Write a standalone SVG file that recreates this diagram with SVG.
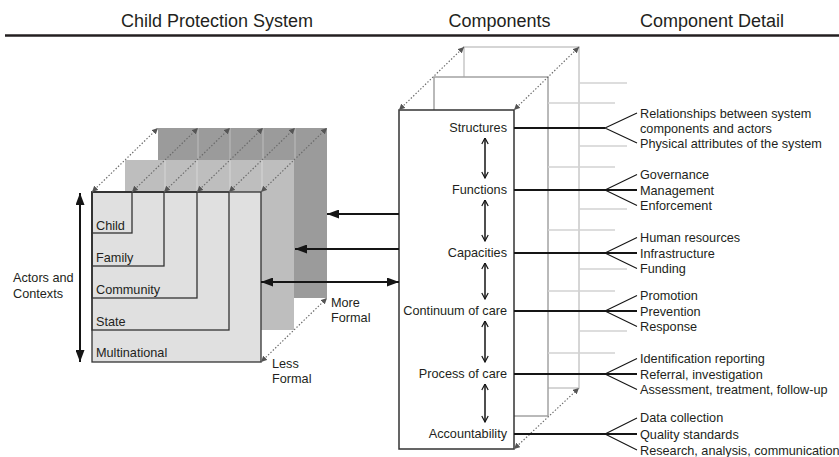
<svg xmlns="http://www.w3.org/2000/svg" width="839" height="457" viewBox="0 0 839 457">
<style>
  text { font-family: "Liberation Sans", Arial, Helvetica, sans-serif; fill: #231f20; }
  .h { font-size: 18px; text-anchor: middle; }
  .t { font-size: 12.7px; }
  .r { text-anchor: end; }
  .dot { stroke: #6a6a6a; stroke-width: 1.2; stroke-dasharray: 1.4 1.9; fill: none; marker-start: url(#ga); marker-end: url(#ga); }
  .thick { stroke: #151515; stroke-width: 2; fill: none; }
  .arr1 { stroke: #151515; stroke-width: 2; fill: none; marker-end: url(#ba); }
  .arr2 { stroke: #151515; stroke-width: 2; fill: none; marker-start: url(#ba); marker-end: url(#ba); }
  .varr { stroke: #151515; stroke-width: 1.5; fill: none; marker-start: url(#va); marker-end: url(#va); }
  .fan { stroke: #151515; stroke-width: 1.1; fill: none; }
  .stub { stroke: #d2d2d2; stroke-width: 1.5; }
  .nest { fill: none; stroke: #333; stroke-width: 1.3; }
</style>
<defs>
  <marker id="ga" viewBox="0 0 6 6" refX="6" refY="3" markerWidth="6" markerHeight="6" markerUnits="userSpaceOnUse" orient="auto-start-reverse">
    <path d="M0,0 L6,3 L0,6 z" fill="#555"/>
  </marker>
  <marker id="ba" viewBox="0 0 12 9" refX="12" refY="4.5" markerWidth="12" markerHeight="9" markerUnits="userSpaceOnUse" orient="auto-start-reverse">
    <path d="M0,0 L12,4.5 L0,9 z" fill="#151515"/>
  </marker>
  <marker id="va" viewBox="0 0 8 8" refX="7.5" refY="4" markerWidth="8" markerHeight="8" markerUnits="userSpaceOnUse" orient="auto-start-reverse">
    <path d="M1.5,0.8 L7.5,4 L1.5,7.2" fill="none" stroke="#151515" stroke-width="1.2"/>
  </marker>
</defs>

<g id="header">
  <text class="h" x="217" y="27">Child Protection System</text>
  <text class="h" x="499.5" y="27">Components</text>
  <text class="h" x="712" y="27">Component Detail</text>
  <line x1="5" y1="35.5" x2="839" y2="35.5" stroke="#231f20" stroke-width="2.5"/>
</g>

<g id="system-stack">
  <g id="panel-more-formal">
    <rect x="158" y="128" width="169" height="170" fill="#9b9b9b"/>
    <path d="M198,128 V160 M230,128 V160 M263,128 V160 M295,128 V160" stroke="#bdbdbd" stroke-width="1"/>
  </g>
  <g id="panel-middle">
    <rect x="125" y="160" width="169" height="170" fill="#bebebe"/>
    <path d="M165,160 V192 M197,160 V192 M230,160 V192 M262,160 V192" stroke="#d6d6d6" stroke-width="1"/>
  </g>
  <g id="panel-less-formal">
    <rect x="92" y="192" width="169" height="170" fill="#e0e0e0" stroke="#333" stroke-width="1.3"/>
    <rect class="nest" x="92" y="192" width="137" height="138"/>
    <rect class="nest" x="92" y="192" width="105" height="106"/>
    <rect class="nest" x="92" y="192" width="72" height="74"/>
    <rect class="nest" x="92" y="192" width="40" height="41"/>
    <text class="t" x="96" y="230">Child</text>
    <text class="t" x="96" y="262">Family</text>
    <text class="t" x="96" y="294">Community</text>
    <text class="t" x="96" y="326">State</text>
    <text class="t" x="96" y="357">Multinational</text>
  </g>
  <g id="stack-depth-lines">
    <line class="dot" x1="92" y1="192" x2="158" y2="128"/>
    <line class="dot" x1="132" y1="192" x2="198" y2="128"/>
    <line class="dot" x1="164" y1="192" x2="230" y2="128"/>
    <line class="dot" x1="197" y1="192" x2="263" y2="128"/>
    <line class="dot" x1="229" y1="192" x2="295" y2="128"/>
    <line class="dot" x1="261" y1="192" x2="327" y2="128"/>
    <line class="dot" x1="261" y1="362" x2="327" y2="298"/>
  </g>
</g>

<g id="actors-contexts">
  <line class="arr2" x1="80" y1="193" x2="80" y2="362"/>
  <text class="t" x="13" y="282">Actors and</text>
  <text class="t" x="13" y="298">Contexts</text>
</g>

<g id="formality-labels">
  <text class="t" x="331" y="306.5">More</text>
  <text class="t" x="331" y="321.5">Formal</text>
  <text class="t" x="272" y="368">Less</text>
  <text class="t" x="272" y="383">Formal</text>
</g>

<g id="components-box">
  <rect x="464" y="47" width="115" height="341" fill="#fff" stroke="#c8c8c8" stroke-width="1.5"/>
  <rect x="434" y="77" width="114" height="339" fill="#fff" stroke="#a3a3a3" stroke-width="1.5"/>
  <path class="stub" d="M579,83 H627 M579,146 H627 M579,209 H627 M579,269 H627 M579,331 H627"/>
  <path class="stub" d="M548,103 H615 M548,167 H615 M548,230 H615 M548,291 H615 M548,353 H615"/>
  <rect x="399" y="110" width="115" height="339" fill="#fff" stroke="#333" stroke-width="1.5"/>
  <line class="dot" x1="399" y1="110" x2="464" y2="47"/>
  <line class="dot" x1="514" y1="110" x2="579" y2="47"/>
  <line class="dot" x1="514" y1="449" x2="579" y2="388"/>
</g>

<g id="comp-structures">
  <text class="t r" x="507" y="132">Structures</text>
  <text class="t" x="640" y="117.5">Relationships between system</text>
  <text class="t" x="640" y="132.5">components and actors</text>
  <text class="t" x="640" y="147.5">Physical attributes of the system</text>
</g>
<g id="comp-functions">
  <text class="t r" x="507" y="194">Functions</text>
  <text class="t" x="640" y="179">Governance</text>
  <text class="t" x="640" y="194.5">Management</text>
  <text class="t" x="640" y="210">Enforcement</text>
</g>
<g id="comp-capacities">
  <text class="t r" x="507" y="257">Capacities</text>
  <text class="t" x="640" y="242">Human resources</text>
  <text class="t" x="640" y="257.5">Infrastructure</text>
  <text class="t" x="640" y="273">Funding</text>
</g>
<g id="comp-continuum">
  <text class="t r" x="507" y="315">Continuum of care</text>
  <text class="t" x="640" y="300">Promotion</text>
  <text class="t" x="640" y="315.5">Prevention</text>
  <text class="t" x="640" y="331">Response</text>
</g>
<g id="comp-process">
  <text class="t r" x="507" y="378">Process of care</text>
  <text class="t" x="640" y="363">Identification reporting</text>
  <text class="t" x="640" y="378.5">Referral, investigation</text>
  <text class="t" x="640" y="394">Assessment, treatment, follow-up</text>
</g>
<g id="comp-accountability">
  <text class="t r" x="507" y="438">Accountability</text>
  <text class="t" x="640" y="422">Data collection</text>
  <text class="t" x="640" y="438.5">Quality standards</text>
  <text class="t" x="640" y="455">Research, analysis, communication</text>
</g>

<g id="connectors">
  <line class="arr1" x1="399" y1="214" x2="327" y2="214"/>
  <line class="arr1" x1="399" y1="249" x2="295" y2="249"/>
  <line class="arr2" x1="261" y1="282" x2="399" y2="282"/>

  <line class="varr" x1="485" y1="138" x2="485" y2="178"/>
  <line class="varr" x1="485" y1="200" x2="485" y2="241"/>
  <line class="varr" x1="485" y1="263" x2="485" y2="299"/>
  <line class="varr" x1="485" y1="321" x2="485" y2="362"/>
  <line class="varr" x1="485" y1="384" x2="485" y2="422"/>

  <line class="thick" x1="514" y1="128" x2="605" y2="128"/>
  <path class="fan" d="M637,113 L605,128 L637,143"/>
  <line class="thick" x1="514" y1="190" x2="637" y2="190"/>
  <path class="fan" d="M637,174.5 L605,190 L637,205.5"/>
  <line class="thick" x1="514" y1="253" x2="637" y2="253"/>
  <path class="fan" d="M637,237.5 L605,253 L637,268.5"/>
  <line class="thick" x1="514" y1="311" x2="637" y2="311"/>
  <path class="fan" d="M637,295.5 L605,311 L637,326.5"/>
  <line class="thick" x1="514" y1="374" x2="637" y2="374"/>
  <path class="fan" d="M637,358.5 L605,374 L637,389.5"/>
  <line class="thick" x1="514" y1="434" x2="637" y2="434"/>
  <path class="fan" d="M637,418 L605,434 L637,450"/>
</g>
</svg>
